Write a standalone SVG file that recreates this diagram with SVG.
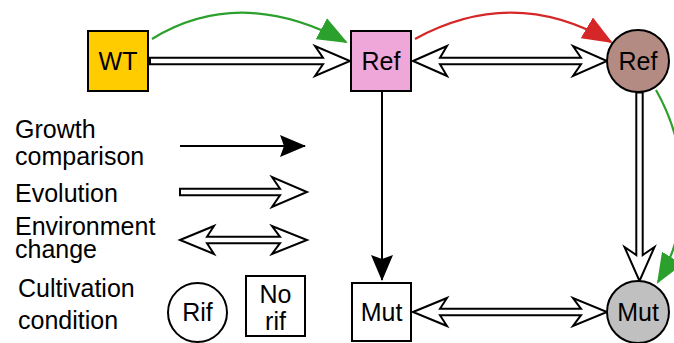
<svg xmlns="http://www.w3.org/2000/svg" width="674" height="343" viewBox="0 0 674 343">
<style>
text{font-family:"Liberation Sans",Arial,sans-serif;font-size:25px;fill:#000}
.c{text-anchor:middle}
.node{stroke:#000;stroke-width:2}
.open{fill:#fff;stroke:#000;stroke-width:2;stroke-linejoin:miter}
.growth{fill:none;stroke:#000;stroke-width:2}
.green{fill:none;stroke:#2ca02c;stroke-width:2.2}
.red{fill:none;stroke:#d62728;stroke-width:2.2}
</style>
<defs>
<marker id="hG" markerUnits="userSpaceOnUse" viewBox="0 0 30 24" markerWidth="30" markerHeight="24" refX="28" refY="12" orient="auto"><path d="M0,0 L30,12 L0,24 Z" fill="#2ca02c"/></marker>
<marker id="hR" markerUnits="userSpaceOnUse" viewBox="0 0 30 24" markerWidth="30" markerHeight="24" refX="28" refY="12" orient="auto"><path d="M0,0 L30,12 L0,24 Z" fill="#d62728"/></marker>
<marker id="hK" markerUnits="userSpaceOnUse" viewBox="0 0 26 22" markerWidth="26" markerHeight="22" refX="25" refY="11" orient="auto"><path d="M0,0 L26,11 L0,22 L4,11 Z" fill="#000"/></marker>
</defs>

<g id="connectors">
<path class="green" d="M152 39 Q240 -15 346 42" marker-end="url(#hG)"/>
<path class="red" d="M415 39 Q514 -15 611 42" marker-end="url(#hR)"/>
<path class="green" d="M656 90 C690 150 692 225 658 282" marker-end="url(#hG)"/>
<polygon class="open" points="150,57.8 323,57.8 315,46 350,61 315,76 323,64.2 150,64.2"/>
<polygon class="open" points="413,61 447,46 440,57.8 581,57.8 573,46 607,61 573,76 581,64.2 440,64.2 447,76"/>
<polygon class="open" points="636.3,92.5 642.7,92.5 642.7,255 654.5,247 639.5,281 624.5,247 636.3,255"/>
<polygon class="open" points="413,312 447,298 440,308.8 581,308.8 573,298 607,312 573,326 581,315.2 440,315.2 447,326"/>
<path class="growth" d="M382 91 L382 280" marker-end="url(#hK)"/>
</g>

<g id="WT"><rect class="node" x="88" y="31" width="60" height="60" fill="#ffcc00"/><text class="c" x="118" y="70">WT</text></g>
<g id="RefBox"><rect class="node" x="351" y="31" width="60" height="60" fill="#efa6d8"/><text class="c" x="381" y="70">Ref</text></g>
<g id="RefCircle"><circle class="node" cx="638" cy="61" r="31" fill="#b48b82"/><text class="c" x="638" y="70">Ref</text></g>
<g id="MutBox"><rect class="node" x="352" y="283" width="59" height="58" fill="#fff"/><text class="c" x="381.5" y="321">Mut</text></g>
<g id="MutCircle"><circle class="node" cx="638" cy="312" r="31" fill="#c0c0c0"/><text class="c" x="638" y="321">Mut</text></g>

<g id="legend">
<text x="15" y="138">Growth</text>
<text x="15" y="165">comparison</text>
<path class="growth" d="M180 146 L305 146" marker-end="url(#hK)"/>
<text x="15" y="202">Evolution</text>
<polygon class="open" points="180,188.8 280,188.8 272,177 307,192 272,207 280,195.2 180,195.2"/>
<text x="15" y="235">Environment</text>
<text x="15" y="258">change</text>
<polygon class="open" points="180,240 214,226 207,236.8 280,236.8 272,226 307,240 272,254 280,243.2 207,243.2 214,254"/>
<text x="18" y="297">Cultivation</text>
<text x="18" y="329">condition</text>
<circle cx="197.5" cy="312.5" r="29.5" fill="#fff" stroke="#000" stroke-width="2"/>
<text class="c" x="197.5" y="321">Rif</text>
<rect x="246" y="276" width="59" height="60" fill="#fff" stroke="#000" stroke-width="2"/>
<text class="c" x="275.5" y="303">No</text>
<text class="c" x="275.5" y="330">rif</text>
</g>
</svg>
